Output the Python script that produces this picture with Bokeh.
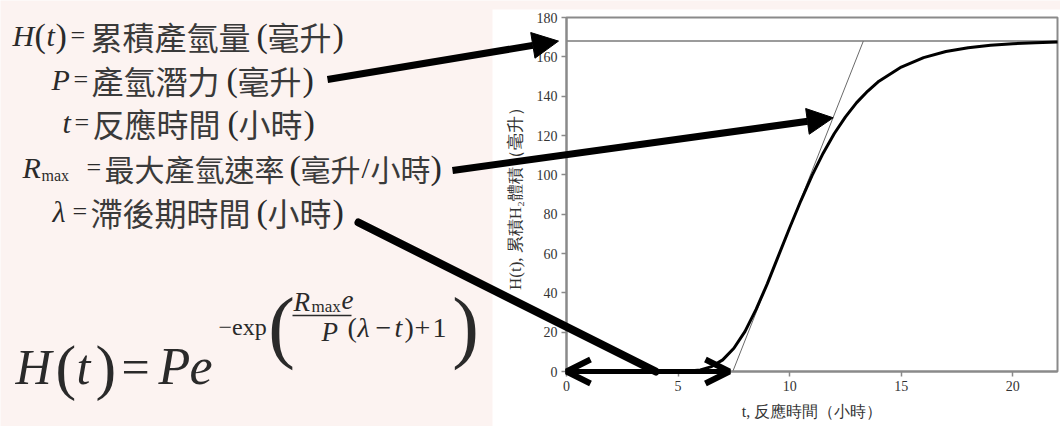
from bokeh.plotting import figure
from bokeh.models import (Label, Arrow, NormalHead, OpenHead, BoxAnnotation,
                          FixedTicker, Range1d, LinearAxis)
from bokeh.embed import file_html
from bokeh.resources import INLINE

# ---------------- data ----------------
reaction_time_h = [0, 1, 2, 3, 4, 5, 5.5, 6, 6.5, 7, 7.5, 8, 8.5, 9, 9.5, 10,
                   10.5, 11, 11.5, 12, 12.5, 13, 13.5, 14, 15, 16, 17, 18, 19,
                   20, 21, 22]
cumulative_h2_ml = [0, 0, 0, 0, 0, 0.04, 0.2, 0.8, 2.5, 5.9, 11.8, 20.4, 31.7,
                    44.7, 58.9, 73.1, 86.8, 99.6, 111.0, 121.0, 129.5, 136.7,
                    142.6, 147.6, 154.8, 159.6, 162.7, 164.6, 165.9, 166.7,
                    167.2, 167.5]
potential_ml = 168.0      # P, the asymptote
lag_h = 7.45              # lambda, where the tangent meets 0
tangent_top_h = 13.3      # where the max-rate tangent meets P
rate_point = (11.95, 129.0)   # where the R_max arrow points
lag_pointer_h = 4.0           # where the lambda line touches the axis
x_ticks = [0, 5, 10, 15, 20]
y_ticks = [0, 20, 40, 60, 80, 100, 120, 140, 160, 180]
x_max, y_max = 22, 180
x_label = "t, 反應時間（小時）"
y_label = "H(t), 累積H₂體積（毫升）"

# ---------------- styling / layout ----------------
SERIF = "Liberation Serif"
CJK = "Noto Sans CJK TC"
INK = "#2a2a2a"
CJK_INK = "#3a3a3a"
GRAY = "#8a8a8a"
PINK = "#fcf3f1"

W, H = 1060, 426
X0, X1 = 566, 1057      # pixel columns of t = 0 and t = 22
Y0, Y1 = 371, 17        # pixel rows of H = 0 and H = 180
KX = (X1 - X0) / x_max
KY = (Y0 - Y1) / y_max


def DX(xr):
    return (xr - X0) / KX


def DY(yr):
    return (Y0 - yr) / KY


p = figure(width=W, height=H,
           x_range=Range1d(DX(0), DX(W)),
           y_range=Range1d(DY(H), DY(0)),
           output_backend="svg", toolbar_location=None,
           x_axis_location=None, y_axis_location=None, min_border=0)
p.title.visible = False
p.background_fill_color = PINK
p.border_fill_color = PINK
p.outline_line_color = None
p.grid.visible = False

# white panel behind the chart
p.add_layout(BoxAnnotation(left=DX(492), right=DX(W + 40), bottom=DY(H + 40), top=DY(9),
                           fill_color="white", fill_alpha=1.0, line_color=None,
                           level="underlay"))

xax = LinearAxis(fixed_location=0, bounds=(0, x_max), ticker=FixedTicker(ticks=x_ticks),
                 axis_label=x_label)
yax = LinearAxis(fixed_location=0, bounds=(0, y_max), ticker=FixedTicker(ticks=y_ticks),
                 axis_label=y_label)
p.add_layout(xax, "below")
p.add_layout(yax, "left")
for ax in (xax, yax):
    ax.axis_line_color = GRAY
    ax.axis_line_width = 2
    ax.major_tick_line_color = GRAY
    ax.major_tick_line_width = 1.5
    ax.major_tick_out = 5
    ax.major_tick_in = 0
    ax.minor_tick_line_color = None
    ax.major_label_text_font = SERIF
    ax.major_label_text_font_size = "14px"
    ax.major_label_text_color = "#333333"
    ax.major_label_standoff = 4
    ax.axis_label_text_font = SERIF
    ax.axis_label_text_font_style = "normal"
    ax.axis_label_text_color = "#333333"
xax.axis_label_text_font_size = "16px"
yax.axis_label_text_font_size = "17px"
xax.axis_label_standoff = 9
yax.axis_label_standoff = 9

# chart box, asymptote, tangent, curve
p.quad(left=[0], right=[x_max], bottom=[0], top=[y_max], fill_color=None,
       line_color=GRAY, line_width=2)
p.segment(x0=[0], y0=[potential_ml], x1=[x_max], y1=[potential_ml],
          line_color="#7a7a7a", line_width=1.5)
p.line([lag_h, tangent_top_h], [0, potential_ml], line_color="#6a6a6a", line_width=1)
p.line(reaction_time_h, cumulative_h2_ml, line_color="black", line_width=3)


def txt(xr, yr, s, size, font=SERIF, style="normal", align="left"):
    p.add_layout(Label(x=DX(xr), y=DY(yr), text=s, text_font=font,
                       text_font_size=f"{size}px", text_font_style=style,
                       text_align=align, text_baseline="middle",
                       text_color=CJK_INK if font == CJK else INK))


# definitions: (x, text, size, font, style, dy)
lines = [
    (35, [(12, "H", 30, SERIF, "italic", 0), (34, "(", 34, SERIF, "normal", 0),
          (46, "t", 30, SERIF, "italic", 0), (55, ")", 34, SERIF, "normal", 0),
          (70, "=", 26, SERIF, "normal", 0), (90, "累積產氫量", 32, CJK, "normal", 0),
          (256, "(", 34, SERIF, "normal", 0), (267, "毫升", 32, CJK, "normal", 0),
          (332, ")", 34, SERIF, "normal", 0)]),
    (79, [(51, "P", 30, SERIF, "italic", 0), (73, "=", 26, SERIF, "normal", 0),
          (91, "產氫潛力", 32, CJK, "normal", 0), (226, "(", 34, SERIF, "normal", 0),
          (237, "毫升", 32, CJK, "normal", 0), (302, ")", 34, SERIF, "normal", 0)]),
    (122, [(62, "t", 30, SERIF, "italic", 0), (74, "=", 26, SERIF, "normal", 0),
           (92, "反應時間", 32, CJK, "normal", 0), (227, "(", 34, SERIF, "normal", 0),
           (238, "小時", 32, CJK, "normal", 0), (303, ")", 34, SERIF, "normal", 0)]),
    (167, [(22, "R", 30, SERIF, "italic", 0), (41, "max", 16, SERIF, "normal", 8),
           (86, "=", 26, SERIF, "normal", 0), (104, "最大產氫速率", 30, CJK, "normal", 0),
           (289, "(", 34, SERIF, "normal", 0), (300, "毫升", 30, CJK, "normal", 0),
           (361, "/", 30, SERIF, "normal", 0), (370, "小時", 30, CJK, "normal", 0),
           (430, ")", 34, SERIF, "normal", 0)]),
    (211, [(52, "λ", 30, SERIF, "italic", 0), (72, "=", 26, SERIF, "normal", 0),
           (90, "滯後期時間", 32, CJK, "normal", 0), (256, "(", 34, SERIF, "normal", 0),
           (267, "小時", 32, CJK, "normal", 0), (332, ")", 34, SERIF, "normal", 0)]),
]
for yr, pieces in lines:
    for xr, s, size, font, style, dy in pieces:
        txt(xr, yr + dy, s, size, font, style)

# big formula
for xr, s, size, style in [(15, "H", 50, "italic"), (55, "(", 62, "normal"),
                           (76, "t", 50, "italic"), (95, ")", 62, "normal"),
                           (121, "=", 50, "normal"), (158, "P", 52, "italic"),
                           (189, "e", 52, "italic")]:
    txt(xr, 366, s, size, SERIF, style)
txt(218, 326, "−exp", 24)
txt(281, 325, "(", 80, align="center")
txt(465, 325, ")", 80, align="center")
txt(293, 301, "R", 27, style="italic")
txt(311, 306, "max", 17)
txt(341, 299, "e", 27, style="italic")
txt(321, 331, "P", 27, style="italic")
for xr, s, style in [(347, "(", "normal"), (357, "λ", "italic"), (375, "−", "normal"),
                     (394, "t", "italic"), (404, ")", "normal"), (414, "+", "normal"),
                     (432, "1", "normal")]:
    txt(xr, 327, s, 28, SERIF, style)
p.add_layout(Arrow(end=None, x_start=DX(292), y_start=DY(315), x_end=DX(351),
                   y_end=DY(315), line_width=1.3, line_color=INK))

# arrows
p.add_layout(Arrow(end=NormalHead(size=26, fill_color="black", line_color="black"),
                   x_start=DX(327), y_start=DY(79), x_end=DX(558), y_end=potential_ml,
                   line_width=7, line_color="black"))
p.add_layout(Arrow(end=NormalHead(size=26, fill_color="black", line_color="black"),
                   x_start=DX(452), y_start=DY(170), x_end=rate_point[0],
                   y_end=rate_point[1], line_width=7, line_color="black"))
p.add_layout(Arrow(end=None, x_start=DX(358), y_start=DY(222), x_end=lag_pointer_h,
                   y_end=0, line_width=8, line_color="black", line_cap="round"))
p.add_layout(Arrow(start=OpenHead(size=24, line_width=6, line_color="black"),
                   end=OpenHead(size=24, line_width=6, line_color="black"),
                   x_start=0, y_start=0, x_end=lag_h - 0.15, y_end=0,
                   line_width=5, line_color="black"))

open("out.html", "w").write(file_html(p, INLINE))
